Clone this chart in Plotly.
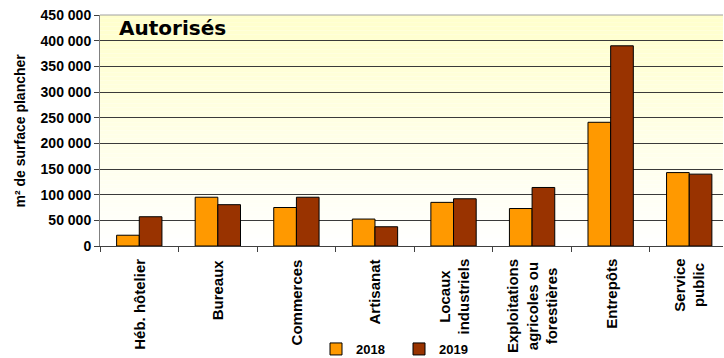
import plotly.graph_objects as go

categories = ["Héb. hôtelier", "Bureaux", "Commerces", "Artisanat",
              "Locaux<br>industriels", "Exploitations<br>agricoles ou<br>forestières",
              "Entrepôts", "Service<br>public"]
cat_keys = ["heb", "bur", "com", "art", "loc", "exp", "ent", "ser"]
values_2018 = [21000, 95000, 75000, 52500, 85000, 73000, 241000, 143000]
values_2019 = [57000, 80500, 95000, 37500, 92000, 114000, 390000, 140000]
y_ticks = [0, 50000, 100000, 150000, 200000, 250000, 300000, 350000, 400000, 450000]

BOLD = "Liberation Sans, Arial, sans-serif"

fig = go.Figure()
fig.add_trace(go.Bar(x=cat_keys, y=values_2018, name="2018",
                     marker=dict(color="#FF9900", line=dict(color="#000000", width=1))))
fig.add_trace(go.Bar(x=cat_keys, y=values_2019, name="2019",
                     marker=dict(color="#993300", line=dict(color="#000000", width=1))))

# gradient background strips
n = 60
shapes = []
for i in range(n):
    t = i / (n - 1)  # 0 bottom -> 1 top
    b = int(round(255 - (255 - 204) * t))
    shapes.append(dict(type="rect", xref="x domain", yref="y domain",
                       x0=0, x1=1, y0=i / n, y1=(i + 1) / n,
                       fillcolor=f"rgb(255,255,{b})", line=dict(width=0), layer="below"))
shapes.append(dict(type="line", xref="x domain", yref="y domain", x0=0, x1=1, y0=1, y1=1,
                   line=dict(color="#A0A0A0", width=1), layer="above"))

annotations = []
for key, lab in zip(cat_keys, categories):
    annotations.append(dict(x=key, xref="x", y=0, yref="paper", yanchor="top", xanchor="center",
                            yshift=-11, text=lab, textangle=-90, showarrow=False, align="center",
                            font=dict(family=BOLD, size=15, color="#000000", weight="bold")))
annotations.append(dict(x=(19 - 100) / 623, xref="paper", y=0.5, yref="paper",
                        text="m² de surface plancher", textangle=-90, showarrow=False,
                        xanchor="center", yanchor="middle",
                        font=dict(family=BOLD, size=14, color="#000000", weight="bold")))
annotations.append(dict(x=(117 - 100) / 623, xref="paper", y=(246 - 28) / 231, yref="paper",
                        text="Autorisés", showarrow=False, xanchor="left", yanchor="middle",
                        font=dict(family="DejaVu Sans", size=20, color="#000000", weight="bold")))

fig.update_layout(
    width=724, height=358,
    margin=dict(l=100, r=1, t=15, b=112, autoexpand=False),
    paper_bgcolor="#FFFFFF", plot_bgcolor="#FFFFFF",
    barmode="group", bargap=0.423, bargroupgap=0,
    separators=", ",
    shapes=shapes, annotations=annotations,
    showlegend=True,
    legend=dict(orientation="h", x=(399 - 100) / 623, xanchor="center",
                y=(246 - 349) / 231, yanchor="middle", itemwidth=30,
                entrywidth=38, entrywidthmode="pixels",
                font=dict(family=BOLD, size=13, color="#000000", weight="bold"),
                bgcolor="rgba(0,0,0,0)", traceorder="normal"),
    xaxis=dict(type="category", range=[-0.5, 7.43], showticklabels=False,
               ticks="outside", tickson="boundaries", ticklen=5, tickcolor="#404040",
               showline=True, linecolor="#404040", linewidth=1, showgrid=False, zeroline=False,
               fixedrange=True),
    yaxis=dict(range=[0, 450000], tickvals=y_ticks, tickformat=",d",
               ticks="outside", ticklen=5, tickcolor="#404040",
               showline=True, linecolor="#808080", linewidth=1,
               showgrid=True, gridcolor="#3A3A3A", gridwidth=1, zeroline=False,
               tickfont=dict(family=BOLD, size=14, color="#000000", weight="bold"),
               fixedrange=True),
)

fig.write_html("out.html", config={"displayModeBar": False},
               post_script="document.body.style.margin='0';document.body.style.overflow='hidden';")
